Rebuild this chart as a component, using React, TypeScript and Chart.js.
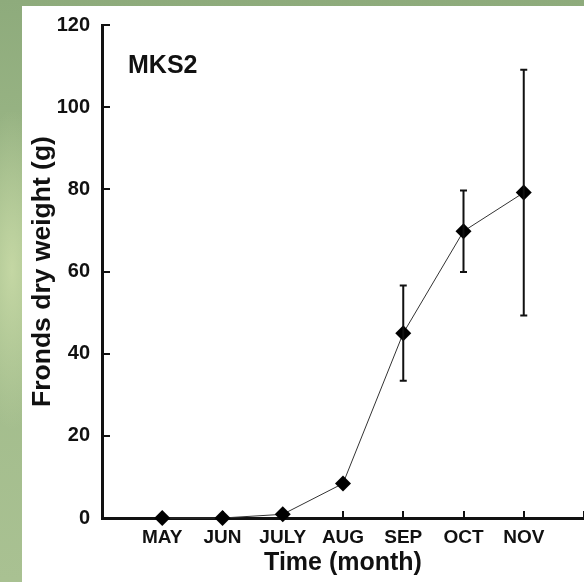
import React, { useEffect, useRef } from 'react';
import { Chart, registerables } from 'chart.js';

Chart.register(...registerables);

const months = ['MAY', 'JUN', 'JULY', 'AUG', 'SEP', 'OCT', 'NOV'];
const dryWeight = [0, 0, 0.9, 8.4, 45.0, 69.8, 79.2];
const errorBars = [0, 0, 0, 0, 11.6, 9.9, 29.9];
const yTickValues = [0, 20, 40, 60, 80, 100, 120];
const panelLabel = 'MKS2';
const xTitle = 'Time (month)';
const yTitle = 'Fronds dry weight (g)';

const FONT = 'Arial, "Liberation Sans", Helvetica, sans-serif';

const errorBarPlugin = {
  id: 'errorBars',
  afterDatasetsDraw(chart: any) {
    const { ctx, scales } = chart;
    const x = scales.x;
    const y = scales.y;
    ctx.save();
    ctx.strokeStyle = '#111';
    ctx.lineWidth = 2;
    errorBars.forEach((e, i) => {
      if (!e) return;
      const px = x.getPixelForValue(i + 1);
      const top = y.getPixelForValue(dryWeight[i] + e);
      const bot = y.getPixelForValue(dryWeight[i] - e);
      ctx.beginPath();
      ctx.moveTo(px, top);
      ctx.lineTo(px, bot);
      ctx.moveTo(px - 3.5, top);
      ctx.lineTo(px + 3.5, top);
      ctx.moveTo(px - 3.5, bot);
      ctx.lineTo(px + 3.5, bot);
      ctx.stroke();
    });
    ctx.restore();
  },
};

const panelLabelPlugin = {
  id: 'panelLabel',
  afterDraw(chart: any) {
    const { ctx, chartArea } = chart;
    ctx.save();
    ctx.fillStyle = '#111';
    ctx.font = `bold 25px ${FONT}`;
    ctx.textAlign = 'left';
    ctx.textBaseline = 'alphabetic';
    ctx.fillText(panelLabel, chartArea.left + 26, chartArea.top + 48);
    ctx.restore();
  },
};

const zeroPadding = (scale: any) => {
  scale.paddingTop = 0;
  scale.paddingBottom = 0;
  scale.paddingLeft = 0;
  scale.paddingRight = 0;
};

export default function App() {
  const canvasRef = useRef<HTMLCanvasElement | null>(null);

  useEffect(() => {
    if (!canvasRef.current) return;
    const labels = ['', ...months, ''];
    const data = [null, ...dryWeight, null];
    const chart = new Chart(canvasRef.current, {
      type: 'line',
      data: {
        labels,
        datasets: [
          {
            data,
            borderColor: '#333',
            borderWidth: 1,
            pointStyle: 'rectRot',
            pointRadius: 8,
            pointHoverRadius: 8,
            pointBackgroundColor: '#000',
            pointBorderColor: '#000',
            pointBorderWidth: 0,
            tension: 0,
            clip: false,
            spanGaps: false,
          } as any,
        ],
      },
      options: {
        animation: false,
        responsive: false,
        maintainAspectRatio: false,
        events: [],
        layout: { autoPadding: false, padding: { top: 25, left: 0, right: 0, bottom: 0 } },
        plugins: {
          legend: { display: false },
          tooltip: { enabled: false },
          title: { display: false },
        },
        scales: {
          x: {
            type: 'category',
            offset: false,
            afterFit: (scale: any) => {
              scale.height = 64;
              zeroPadding(scale);
            },
            grid: {
              drawOnChartArea: false,
              drawTicks: true,
              tickLength: -7,
              color: '#111',
              lineWidth: 2,
            },
            border: { display: true, color: '#111', width: 3 },
            ticks: {
              autoSkip: false,
              maxRotation: 0,
              padding: 15,
              color: '#111',
              font: { family: FONT, size: 19, weight: 'bold' },
            },
            title: {
              display: true,
              text: xTitle,
              color: '#111',
              font: { family: FONT, size: 25, weight: 'bold', lineHeight: 1.2 },
              padding: { top: 0, bottom: 3.5 },
            },
          },
          y: {
            type: 'linear',
            min: 0,
            max: 120,
            afterFit: (scale: any) => {
              scale.width = 102;
              zeroPadding(scale);
            },
            afterBuildTicks: (scale: any) => {
              scale.ticks = yTickValues.map((v) => ({ value: v }));
            },
            grid: {
              drawOnChartArea: false,
              drawTicks: true,
              tickLength: -8,
              color: '#111',
              lineWidth: 2,
            },
            border: { display: true, color: '#111', width: 3 },
            ticks: {
              padding: 20,
              color: '#111',
              font: { family: FONT, size: 20, weight: 'bold' },
            },
            title: {
              display: true,
              text: yTitle,
              color: '#111',
              font: { family: FONT, size: 26.5, weight: 'bold', lineHeight: 1.2 },
              padding: { top: 27, bottom: 0 },
            },
          },
        },
      } as any,
      plugins: [errorBarPlugin, panelLabelPlugin],
    });
    return () => chart.destroy();
  }, []);

  return (
    <div
      style={{
        position: 'fixed',
        left: 0,
        top: 0,
        width: 584,
        height: 582,
        overflow: 'hidden',
        background:
          'radial-gradient(ellipse 40px 160px at 12px 270px, rgba(205,222,170,0.8), rgba(205,222,170,0) 100%), linear-gradient(180deg, #8eab7c 0%, #9fba89 40%, #a9c192 100%)',
      }}
    >
      <div
        style={{
          position: 'absolute',
          left: 22,
          top: 6,
          width: 562,
          height: 576,
          background: '#fff',
        }}
      />
      <canvas
        ref={canvasRef}
        width={584}
        height={582}
        style={{ position: 'absolute', left: 0, top: 0, display: 'block' }}
      />
    </div>
  );
}
